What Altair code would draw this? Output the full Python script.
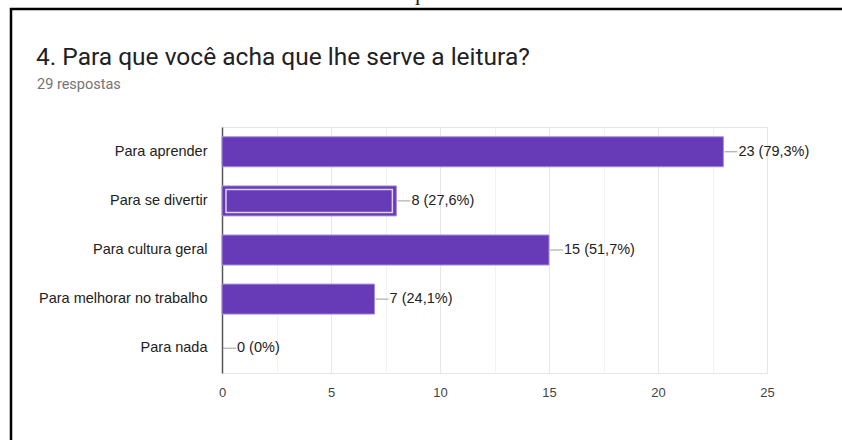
import altair as alt
import pandas as pd

categories = ["Para aprender", "Para se divertir", "Para cultura geral",
              "Para melhorar no trabalho", "Para nada"]
counts = [23, 8, 15, 7, 0]
percents = ["79,3%", "27,6%", "51,7%", "24,1%", "0%"]
x_ticks = [0, 2.5, 5, 7.5, 10, 12.5, 15, 17.5, 20, 22.5, 25]

df = pd.DataFrame({"cat": categories, "n": counts, "pct": percents})
df["label"] = df["n"].astype(str) + " (" + df["pct"] + ")"

W, H = 545, 246
PL, PT = 222, 127

xs = alt.Scale(domain=[0, 25], nice=False)
ys = alt.Scale(domain=categories, paddingInner=0.39, paddingOuter=0.2)

y_axis = alt.Axis(title=None, ticks=False, domain=True, domainColor="#555555",
                  domainWidth=1.5, labelFont="Liberation Sans", labelFontSize=14.5,
                  labelColor="#222222", labelPadding=15, grid=False)
x_axis = alt.Axis(title=None, values=x_ticks, ticks=False, domain=False,
                  labelExpr="datum.value % 5 == 0 ? datum.label : ''",
                  labelFont="Liberation Sans", labelFontSize=13, labelColor="#444444",
                  labelPadding=13, labelFlush=False,
                  gridColor={"condition": {"test": "datum.value % 5 === 0", "value": "#e6e6e6"},
                             "value": "#f2f2f2"})

base = alt.Chart(df)
Y = alt.Y("cat:N", scale=ys, sort=categories)

axes = base.mark_bar(opacity=0).encode(
    x=alt.X("n:Q", scale=xs, axis=x_axis),
    y=alt.Y("cat:N", scale=ys, sort=categories, axis=y_axis),
)

bars = base.transform_filter("datum.n > 0").mark_rect(
    color="#673ab7", stroke="#a58fd8", strokeWidth=1, height=30).encode(
    x=alt.X("n:Q", scale=xs), x2=alt.datum(0), y=Y)

hl = base.transform_filter("datum.cat == 'Para se divertir'").mark_rect(
    fill=None, fillOpacity=0, stroke="#ddd3ef", strokeWidth=1.5,
    xOffset=-4, x2Offset=4, height=23).encode(
    x=alt.X("n:Q", scale=xs), x2=alt.datum(0), y=Y)

leaders = base.mark_rule(color="#9e9e9e", strokeWidth=1, xOffset=1, x2Offset=14).encode(
    x=alt.X("n:Q", scale=xs), x2="n:Q", y=Y)

labels = base.mark_text(align="left", baseline="middle", dx=15, font="Liberation Sans",
                        fontSize=14.5, color="#222222").encode(
    x=alt.X("n:Q", scale=xs), y=Y, text="label:N")

title = alt.Chart(pd.DataFrame({"t": ["4. Para que você acha que lhe serve a leitura?"]})).mark_text(
    align="left", baseline="alphabetic", font="Roboto", fontSize=24.5, color="#202124").encode(
    x=alt.value(36 - PL), y=alt.value(65 - PT), text="t:N")

subtitle = alt.Chart(pd.DataFrame({"t": ["29 respostas"]})).mark_text(
    align="left", baseline="alphabetic", font="Roboto", fontSize=14.5, color="#757575").encode(
    x=alt.value(37 - PL), y=alt.value(89 - PT), text="t:N")

caption = alt.Chart(pd.DataFrame({"t": ["Gráfico 5 - Para que serve a leitura"]})).mark_text(
    align="center", baseline="alphabetic", font="Liberation Serif", fontSize=22, color="#222222").encode(
    x=alt.value(416 - PL), y=alt.value(0 - PT), text="t:N")

frame_top = alt.Chart(pd.DataFrame({"a": [0]})).mark_rule(color="#000000", strokeWidth=2.5).encode(
    x=alt.value(10 - PL), x2=alt.value(842 - PL), y=alt.value(9 - PT))
frame_left = alt.Chart(pd.DataFrame({"a": [0]})).mark_rule(color="#000000", strokeWidth=2.5).encode(
    x=alt.value(11 - PL), y=alt.value(8 - PT), y2=alt.value(440 - PT))

chart = alt.layer(axes, bars, hl, leaders, labels, title, subtitle, caption,
                  frame_top, frame_left).properties(
    width=W, height=H,
    padding={"left": PL, "top": PT, "right": 842 - PL - W, "bottom": 440 - PT - H},
    autosize=alt.AutoSizeParams(type="none"),
    background="white",
).configure_view(stroke="#e6e6e6")

chart.save("out.html", embed_options={"renderer": "svg", "actions": False})
